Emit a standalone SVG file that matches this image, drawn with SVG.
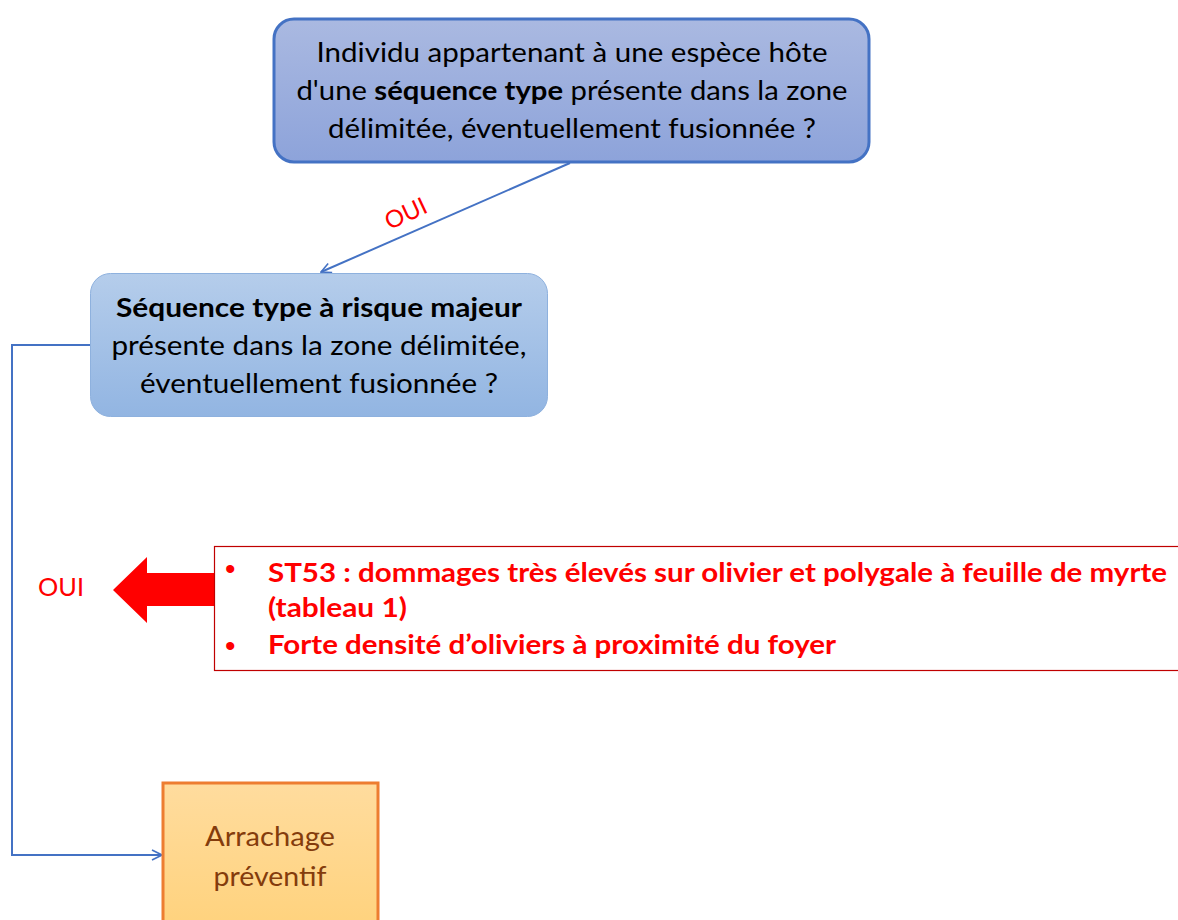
<svg xmlns="http://www.w3.org/2000/svg" width="1178" height="920" viewBox="0 0 1178 920">
<defs>
<linearGradient id="g1" x1="0" y1="0" x2="0" y2="1"><stop offset="0" stop-color="#AAB9E1"/><stop offset="1" stop-color="#8DA3DA"/></linearGradient>
<linearGradient id="g2" x1="0" y1="0" x2="0" y2="1"><stop offset="0" stop-color="#B5CDEB"/><stop offset="1" stop-color="#92B5E2"/></linearGradient>
<linearGradient id="g3" x1="0" y1="0" x2="0" y2="1"><stop offset="0" stop-color="#FFDC9E"/><stop offset="1" stop-color="#FFD27C"/></linearGradient>
<marker id="arr" viewBox="0 0 12 12" refX="11" refY="6" markerWidth="12" markerHeight="12" markerUnits="userSpaceOnUse" orient="auto">
<path d="M1,1 L11,6 L1,11" fill="none" stroke="#4472C4" stroke-width="1.6"/>
</marker>
<style>
.t{font-family:Lato,"Liberation Sans",sans-serif;font-size:27px;fill:#000;text-anchor:middle}
.t2{font-size:26px}
.b{font-weight:bold}
.r{font-family:Lato,"Liberation Sans",sans-serif;font-size:26px;fill:#FF0000;font-weight:bold}
.bul{font-family:"Liberation Sans",sans-serif;font-size:30px;fill:#FF0000}
.c{fill:none;stroke:#4472C4;stroke-width:2}
.o{fill:#843C0C}
</style>
</defs>
<rect width="1178" height="920" fill="#fff"/>
<g id="connectors">
<line class="c" x1="570" y1="163" x2="321" y2="272" marker-end="url(#arr)"/>
<text x="405" y="222" transform="rotate(-25 405 212)" font-family="Lato,'Liberation Sans',sans-serif" font-size="24" fill="#FF0000" text-anchor="middle">OUI</text>
<polyline class="c" points="90,345 12,345 12,855 162,855" marker-end="url(#arr)"/>
<polygon points="113,590 147,557 147,573 214,573 214,606 147,606 147,623" fill="#FF0000"/>
<text x="38" y="596" font-family="Lato,'Liberation Sans',sans-serif" font-size="25" fill="#FF0000" textLength="46" lengthAdjust="spacingAndGlyphs">OUI</text>
</g>
<g id="node1">
<rect x="274" y="19" width="595" height="143" rx="20" fill="url(#g1)" stroke="#4472C4" stroke-width="3"/>
<text class="t" x="572" y="62" textLength="511" lengthAdjust="spacingAndGlyphs">Individu appartenant à une espèce hôte</text>
<text class="t" x="572" y="100" textLength="551" lengthAdjust="spacingAndGlyphs">d'une <tspan class="b">séquence type</tspan> présente dans la zone</text>
<text class="t" x="572" y="138" textLength="488" lengthAdjust="spacingAndGlyphs">délimitée, éventuellement fusionnée ?</text>
</g>
<g id="node2">
<rect x="90.5" y="273.5" width="457" height="143" rx="20" fill="url(#g2)" stroke="#8EB1DE" stroke-width="1"/>
<text class="t t2 b" x="319" y="317" textLength="406" lengthAdjust="spacingAndGlyphs">Séquence type à risque majeur</text>
<text class="t t2" x="319" y="355" textLength="415" lengthAdjust="spacingAndGlyphs">présente dans la zone délimitée,</text>
<text class="t t2" x="319" y="393" textLength="358" lengthAdjust="spacingAndGlyphs">éventuellement fusionnée ?</text>
</g>
<g id="node3">
<rect x="214.5" y="546.5" width="970" height="124" fill="#fff" stroke="#C00000" stroke-width="1.2"/>
<text class="bul" x="225" y="579">•</text>
<text class="r" x="268" y="582" textLength="899" lengthAdjust="spacingAndGlyphs">ST53 : dommages très élevés sur olivier et polygale à feuille de myrte</text>
<text class="r" x="268" y="617" textLength="139" lengthAdjust="spacingAndGlyphs">(tableau 1)</text>
<text class="bul" x="225" y="656">•</text>
<text class="r" x="268" y="654" textLength="568" lengthAdjust="spacingAndGlyphs">Forte densité d’oliviers à proximité du foyer</text>
</g>
<g id="node4">
<rect x="163" y="783" width="215" height="150" fill="url(#g3)" stroke="#ED7D31" stroke-width="3"/>
<text class="t t2 o" x="270" y="846" textLength="130" lengthAdjust="spacingAndGlyphs">Arrachage</text>
<text class="t t2 o" x="270" y="886" textLength="113" lengthAdjust="spacingAndGlyphs">préventif</text>
</g>
</svg>
